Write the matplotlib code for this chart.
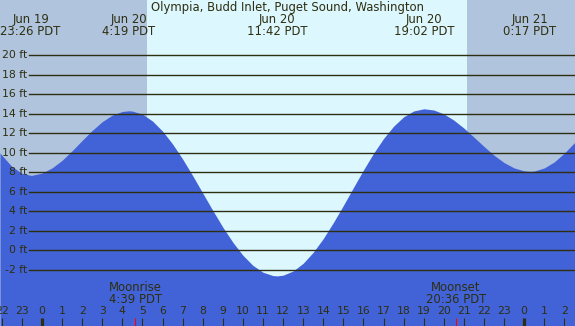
import matplotlib.pyplot as plt
import matplotlib.transforms as mtransforms

tide_hours = [-2.09, -2, -1.5, -1, -0.567, -0.5, 0, 0.5, 1, 1.5, 2, 2.5, 3, 3.5, 4,
              4.317, 4.5, 5, 5.5, 6, 6.5, 7, 7.5, 8, 8.5, 9, 9.5, 10, 10.5, 11, 11.5,
              11.7, 12, 12.5, 13, 13.5, 14, 14.5, 15, 15.5, 16, 16.5, 17, 17.5, 18,
              18.5, 19, 19.033, 19.5, 20, 20.5, 21, 21.5, 22, 22.5, 23, 23.5, 24,
              24.283, 24.5, 25, 25.5, 26, 26.53]
tide_ft = [10.0, 9.75, 8.6, 7.9, 7.7, 7.7, 7.92, 8.45, 9.23, 10.21, 11.27, 12.29,
           13.19, 13.86, 14.23, 14.3, 14.27, 13.95, 13.25, 12.22, 10.9, 9.36, 7.66,
           5.88, 4.1, 2.39, 0.84, -0.49, -1.53, -2.23, -2.57, -2.6, -2.53, -2.1,
           -1.31, -0.18, 1.22, 2.85, 4.61, 6.44, 8.24, 9.94, 11.46, 12.72, 13.68,
           14.28, 14.5, 14.5, 14.38, 13.98, 13.34, 12.53, 11.6, 10.65, 9.75, 9.0,
           8.45, 8.15, 8.1, 8.13, 8.45, 9.07, 9.97, 11.1]

extreme_hours = [-0.567, 4.317, 11.7, 19.033, 24.283]
extreme_dates = ['Jun 19', 'Jun 20', 'Jun 20', 'Jun 20', 'Jun 21']
extreme_times = ['23:26 PDT', '4:19 PDT', '11:42 PDT', '19:02 PDT', '0:17 PDT']

moon_hours = [4.65, 20.6]
moon_names = ['Moonrise', 'Moonset']
moon_times = ['4:39 PDT', '20:36 PDT']

sunrise = 5.23
sunset = 21.16
levels = list(range(-2, 21, 2))
hour_ticks = list(range(-2, 27))

title = 'Olympia, Budd Inlet, Puget Sound, Washington'

night_col = '#b0c4de'
day_col = '#ddf7ff'
water_col = '#4263d8'
ink = '#2e2e10'

fig = plt.figure(figsize=(5.75, 3.26), dpi=100)
ax = fig.add_axes([0, 0, 1, 1])
x0, x1 = -2.09, 26.53
y0, y1 = -7.73, 25.64
ax.set_xlim(x0, x1)
ax.set_ylim(y0, y1)
ax.axis('off')

# night / day / night background
ax.axvspan(x0, sunrise, color=night_col, lw=0, zorder=0)
ax.axvspan(sunrise, sunset, color=day_col, lw=0, zorder=0)
ax.axvspan(sunset, x1, color=night_col, lw=0, zorder=0)

ax.fill_between(tide_hours, tide_ft, y0, color=water_col, lw=0, zorder=1)

trans_y = mtransforms.blended_transform_factory(ax.transAxes, ax.transData)
for lv in levels:
    ax.axhline(lv, xmin=29 / 575, xmax=1, color=ink, lw=1.0, zorder=2)
    ax.text(27 / 575, lv, f'{lv} ft', transform=trans_y, ha='right', va='center',
            fontsize=7.8, color=ink, zorder=3)

ax.text(0.5, 1 - 7.5 / 326, title, transform=ax.transAxes, ha='center', va='center',
        fontsize=8.4, color=ink)
for h, d, t in zip(extreme_hours, extreme_dates, extreme_times):
    ax.text(h, y1 - 19 * (y1 - y0) / 326, d, ha='center', va='center', fontsize=8.4, color=ink)
    ax.text(h, y1 - 31.5 * (y1 - y0) / 326, t, ha='center', va='center', fontsize=8.4, color=ink)

trans_x = mtransforms.blended_transform_factory(ax.transData, ax.transAxes)
for h, n, t in zip(moon_hours, moon_names, moon_times):
    ax.text(h, 1 - 287.5 / 326, n, transform=trans_x, ha='center', va='center',
            fontsize=8.4, color=ink, zorder=3)
    ax.text(h, 1 - 299.5 / 326, t, transform=trans_x, ha='center', va='center',
            fontsize=8.4, color=ink, zorder=3)
    ax.vlines(h, 0, 8 / 326, transform=trans_x, color='red', lw=0.8, zorder=4)

# hour ticks along the bottom, thick at midnight
for h in hour_ticks:
    lab = str(h % 24)
    ax.text(h, 1 - 311.5 / 326, lab, transform=trans_x, ha='center', va='center',
            fontsize=7.8, color=ink, zorder=3)
    width = 2.3 if h % 24 == 0 else 0.8
    ax.vlines(h, 0, 8 / 326, transform=trans_x, color=ink, lw=width, zorder=3)

fig.savefig('out.png', dpi=100)
